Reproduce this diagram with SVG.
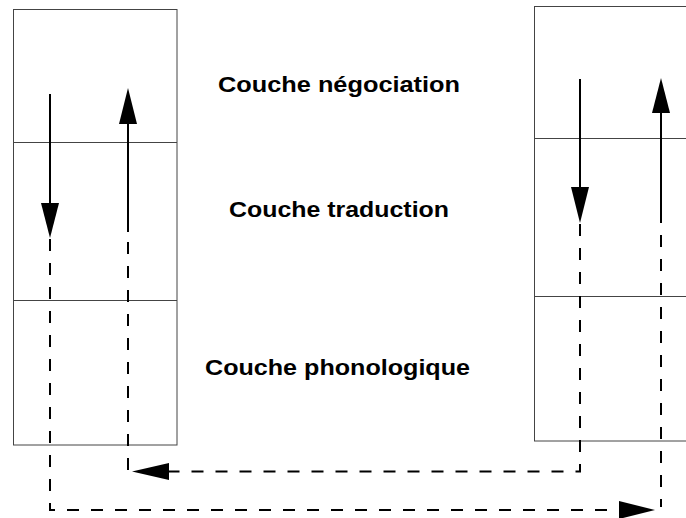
<svg xmlns="http://www.w3.org/2000/svg" width="686" height="518" viewBox="0 0 686 518">
<style>
.box{fill:none;stroke:#444;stroke-width:1}
.sol{fill:none;stroke:#000;stroke-width:2}
.dash{fill:none;stroke:#000;stroke-width:2;stroke-dasharray:12 12}
.head{fill:#000;stroke:none}
.lbl{font-family:"Liberation Sans",Arial,sans-serif;font-weight:bold;font-size:21.5px;fill:#000}
</style>
<rect width="686" height="518" fill="#fff"/>
<g id="left-stack">
<rect class="box" x="13.5" y="9.5" width="163.5" height="435.5"/>
<line class="box" x1="13.5" y1="142.5" x2="177" y2="142.5"/>
<line class="box" x1="13.5" y1="300.5" x2="177" y2="300.5"/>
</g>
<g id="right-stack">
<rect class="box" x="534.5" y="6.5" width="160" height="434.5"/>
<line class="box" x1="534.5" y1="138.5" x2="686" y2="138.5"/>
<line class="box" x1="534.5" y1="296.5" x2="686" y2="296.5"/>
</g>
<g id="labels">
<text class="lbl" x="339" y="92" text-anchor="middle" textLength="242" lengthAdjust="spacingAndGlyphs">Couche négociation</text>
<text class="lbl" x="339" y="217" text-anchor="middle" textLength="220" lengthAdjust="spacingAndGlyphs">Couche traduction</text>
<text class="lbl" x="337.5" y="375" text-anchor="middle" textLength="265" lengthAdjust="spacingAndGlyphs">Couche phonologique</text>
</g>
<g id="connectors">
<line class="sol" x1="50" y1="94" x2="50" y2="204"/>
<polygon class="head" points="41,203 59,203 50,238"/>
<path class="dash" d="M50,239 V510 H620"/>
<polygon class="head" points="619,501 619,519 655,510"/>
<line class="sol" x1="128" y1="123" x2="128" y2="232"/>
<polygon class="head" points="119,124 137,124 128,88"/>
<path class="dash" d="M580,224 V471.5 H168"/>
<polygon class="head" points="169,463 169,480 132,471.5"/>
<path class="dash" d="M128,470 V233"/>
<line class="sol" x1="580" y1="79" x2="580" y2="188"/>
<polygon class="head" points="571,187 589,187 580,223"/>
<line class="sol" x1="661" y1="112" x2="661" y2="223"/>
<polygon class="head" points="652,113 670,113 661,78"/>
<path class="dash" d="M661,235 V507"/>
</g>
</svg>
